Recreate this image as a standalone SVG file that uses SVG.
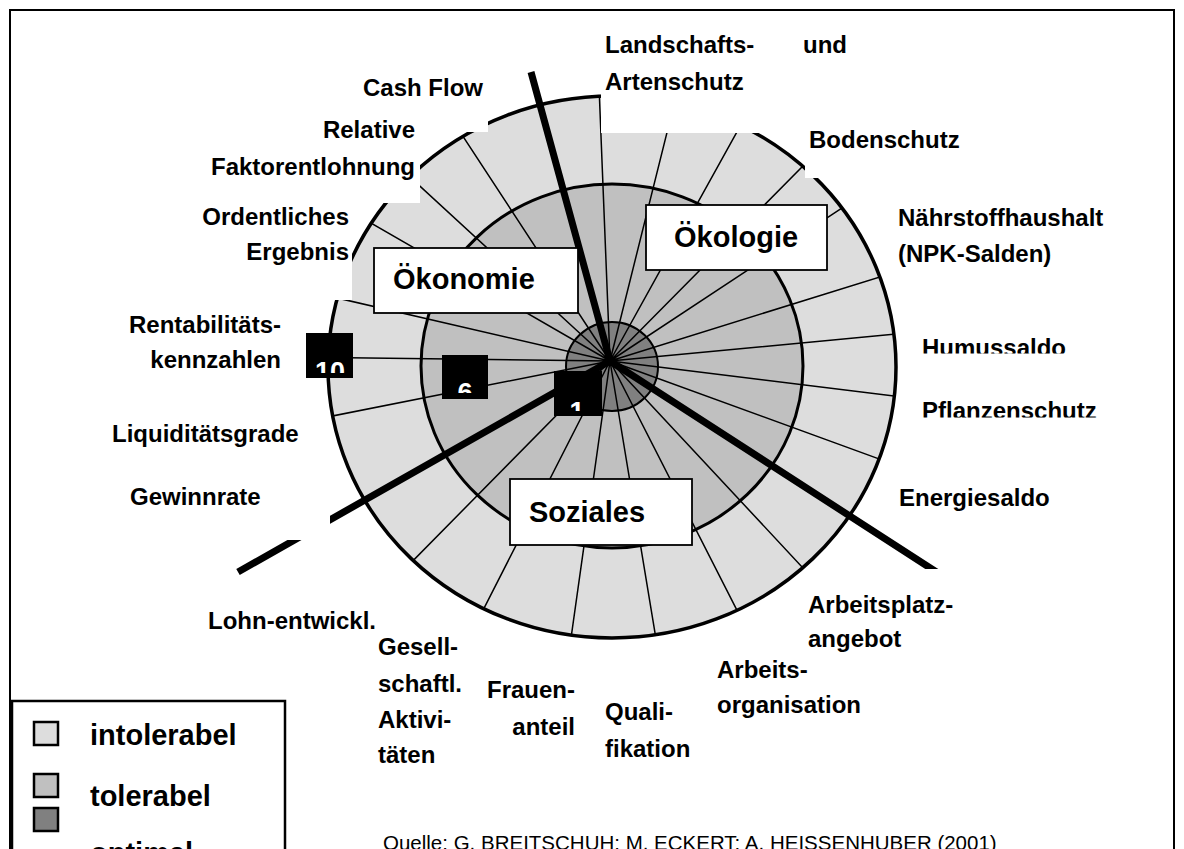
<svg xmlns="http://www.w3.org/2000/svg" width="1184" height="849" viewBox="0 0 1184 849">
<style>
.lbl{font-family:"Liberation Sans",Arial,sans-serif;font-weight:bold;font-size:24px;fill:#000}
.cat{font-family:"Liberation Sans",Arial,sans-serif;font-weight:bold;font-size:29px;fill:#000}
.val{font-family:"Liberation Sans",Arial,sans-serif;font-weight:bold;font-size:27px;fill:#fff}
.src{font-family:"Liberation Sans",Arial,sans-serif;font-size:20.5px;fill:#000}
.ring{fill:none;stroke:#000}
.spoke{fill:none;stroke:#000;stroke-width:1.5}
.thick{fill:none;stroke:#000;stroke-width:7}
.mask{fill:#fff;stroke:none}
.box{fill:#fff;stroke:#000;stroke-width:1.8}
.vbox{fill:#000}
.sw{stroke:#000;stroke-width:2.5}
</style>
<defs>
<clipPath id="cOuter"><ellipse cx="612" cy="367" rx="284" ry="271"/></clipPath>
<clipPath id="cHumus"><rect x="900" y="320" width="200" height="33.5"/></clipPath>
<clipPath id="cPflanz"><rect x="900" y="385" width="220" height="32.5"/></clipPath>
<clipPath id="c10"><rect x="306" y="333" width="47" height="40"/></clipPath>
<clipPath id="c6"><rect x="442" y="355" width="46" height="38"/></clipPath>
<clipPath id="c1"><rect x="554" y="371" width="48" height="40"/></clipPath>
</defs>
<rect width="1184" height="849" fill="#fff"/>

<g id="chart">
<ellipse cx="612" cy="367" rx="284" ry="271" fill="#dddddd"/>
<ellipse cx="612" cy="366" rx="191" ry="182" fill="#c0c0c0"/>
<ellipse cx="612" cy="366.5" rx="46" ry="44.5" fill="#808080"/>
</g>

<g id="connectors">
<path class="spoke" clip-path="url(#cOuter)" d="M610 361L598 61.2M610 361L682.6 69.9M610 361L755.4 98.6M610 361L821 147.8M610 361L860.4 195.8M610 361L896.4 271.8M610 361L908.7 332.8M610 361L907.8 397.6M610 361L891.9 463.6M610 361L814.6 580.4M610 361L746.2 628.3M610 361L659 657M610 361L568.2 658.1M610 361L473.8 628.3M610 361L399.3 574.6M610 361L315.7 419.3M610 361L310 357.3M610 361L317.7 293.5M610 361L350.2 211M610 361L389.2 157.9M610 361L445.7 110"/>
<ellipse class="ring" cx="612" cy="367" rx="284" ry="271" stroke-width="3.5"/>
<ellipse class="ring" cx="612" cy="366" rx="191" ry="182" stroke-width="3"/>
<ellipse class="ring" cx="612" cy="366.5" rx="46" ry="44.5" stroke-width="2"/>
<path class="thick" d="M610 361L531 72M610 361L955 584M610 361L238 572"/>
</g>

<g id="masks">
<rect class="mask" x="601" y="0" width="249" height="133"/>
<rect class="mask" x="805" y="115" width="160" height="63"/>
<rect class="mask" x="355" y="60" width="133" height="72"/>
<rect class="mask" x="205" y="105" width="215" height="98"/>
<rect class="mask" x="195" y="200" width="157" height="100"/>
<rect class="mask" x="120" y="478" width="210" height="62"/>
<rect class="mask" x="805" y="569" width="195" height="91"/>
</g>

<g id="node-oekonomie"><rect class="box" x="374" y="248" width="204" height="65"/><text class="cat" x="393" y="289">Ökonomie</text></g>
<g id="node-oekologie"><rect class="box" x="646" y="205" width="181" height="65"/><text class="cat" x="674" y="247">Ökologie</text></g>
<g id="node-soziales"><rect class="box" x="510" y="479" width="182" height="66"/><text class="cat" x="529" y="522">Soziales</text></g>

<g id="value-10"><rect class="vbox" x="306" y="333" width="47" height="45"/><text class="val" x="330" y="381" text-anchor="middle" clip-path="url(#c10)">10</text></g>
<g id="value-6"><rect class="vbox" x="442" y="355" width="46" height="44"/><text class="val" x="465" y="402" text-anchor="middle" clip-path="url(#c6)">6</text></g>
<g id="value-1"><rect class="vbox" x="554" y="371" width="48" height="45"/><text class="val" x="577" y="421" text-anchor="middle" clip-path="url(#c1)">1</text></g>

<g id="labels-oekologie">
<text class="lbl" x="605" y="53">Landschafts-</text>
<text class="lbl" x="803" y="53">und</text>
<text class="lbl" x="605" y="90">Artenschutz</text>
<text class="lbl" x="809" y="148">Bodenschutz</text>
<text class="lbl" x="898" y="226">Nährstoffhaushalt</text>
<text class="lbl" x="898" y="262">(NPK-Salden)</text>
<text class="lbl" x="922" y="355.5" clip-path="url(#cHumus)">Humussaldo</text>
<text class="lbl" x="922" y="418.5" clip-path="url(#cPflanz)">Pflanzenschutz</text>
<text class="lbl" x="899" y="506">Energiesaldo</text>
</g>
<g id="labels-soziales">
<text class="lbl" x="808" y="613">Arbeitsplatz-</text>
<text class="lbl" x="808" y="647">angebot</text>
<text class="lbl" x="717" y="678">Arbeits-</text>
<text class="lbl" x="717" y="713">organisation</text>
<text class="lbl" x="605" y="720">Quali-</text>
<text class="lbl" x="605" y="757">fikation</text>
<text class="lbl" x="575" y="698" text-anchor="end">Frauen-</text>
<text class="lbl" x="575" y="735" text-anchor="end">anteil</text>
<text class="lbl" x="378" y="655">Gesell-</text>
<text class="lbl" x="378" y="692">schaftl.</text>
<text class="lbl" x="378" y="728">Aktivi-</text>
<text class="lbl" x="378" y="763">täten</text>
<text class="lbl" x="208" y="629">Lohn-entwickl.</text>
</g>
<g id="labels-oekonomie">
<text class="lbl" x="483" y="96" text-anchor="end">Cash Flow</text>
<text class="lbl" x="415" y="138" text-anchor="end">Relative</text>
<text class="lbl" x="415" y="175" text-anchor="end">Faktorentlohnung</text>
<text class="lbl" x="349" y="225" text-anchor="end">Ordentliches</text>
<text class="lbl" x="349" y="260" text-anchor="end">Ergebnis</text>
<text class="lbl" x="281" y="333" text-anchor="end">Rentabilitäts-</text>
<text class="lbl" x="281" y="368" text-anchor="end">kennzahlen</text>
<text class="lbl" x="112" y="442">Liquiditätsgrade</text>
<text class="lbl" x="130" y="505">Gewinnrate</text>
</g>

<g id="legend">
<rect x="12" y="701" width="273" height="200" fill="#fff" stroke="#000" stroke-width="2.5"/>
<rect class="sw" x="34" y="722" width="24" height="23" fill="#dddddd"/>
<text class="cat" x="90" y="745">intolerabel</text>
<rect class="sw" x="34" y="774" width="24" height="23" fill="#c0c0c0"/>
<text class="cat" x="90" y="806">tolerabel</text>
<rect class="sw" x="34" y="808" width="24" height="23" fill="#808080"/>
<text class="cat" x="90" y="863">optimal</text>
</g>

<text id="source" class="src" x="383" y="850">Quelle: G. BREITSCHUH: M. ECKERT: A. HEISSENHUBER (2001)</text>

<rect id="frame" x="10" y="10" width="1164" height="900" fill="none" stroke="#000" stroke-width="2"/>
</svg>
